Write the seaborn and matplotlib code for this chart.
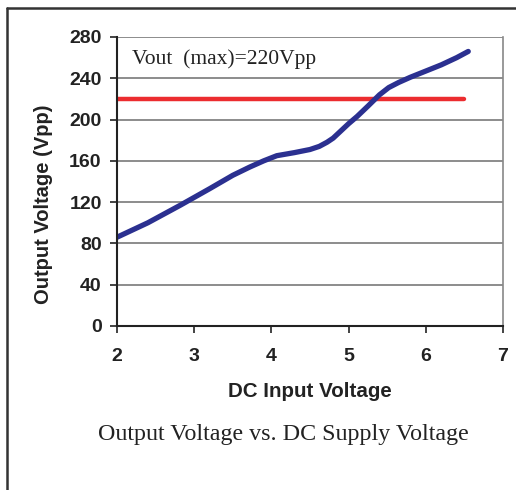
import matplotlib
matplotlib.use("Agg")
import matplotlib.pyplot as plt
import seaborn as sns
import pandas as pd
from matplotlib.lines import Line2D

# values
dc_input = [2.0, 2.4, 2.82, 3.2, 3.5, 3.72, 3.9, 4.07, 4.3, 4.5, 4.62, 4.72, 4.8, 4.9, 5.0,
            5.11, 5.25, 5.4, 5.52, 5.65, 5.8, 6.0, 6.2, 6.4, 6.55]
vout = [86, 100, 117, 133, 146, 154, 160, 165, 168, 171, 174, 178, 182, 189, 196,
        203, 213, 224, 231, 236, 241, 247, 253, 260, 266]
limit_x = [2.0, 6.5]
limit_y = [220, 220]

curve = pd.DataFrame({"DC Input Voltage": dc_input, "Output Voltage (Vpp)": vout})
limit = pd.DataFrame({"x": limit_x, "y": limit_y})

sns.set_style("white")
plt.rcParams["font.family"] = ["Liberation Sans", "DejaVu Sans"]

fig = plt.figure(figsize=(5.16, 4.9), dpi=100)
ax = fig.add_axes([0.2267, 0.3347, 0.7481, 0.5898])

for y in range(40, 281, 40):
    ax.axhline(y, color="#6e6e6e", linewidth=1.1, zorder=0)
sns.lineplot(data=limit, x="x", y="y", color="#ec2c2f", linewidth=3.2, ax=ax)
sns.lineplot(data=curve, x="DC Input Voltage", y="Output Voltage (Vpp)", sort=False,
             color="#2b3090", linewidth=3.8, ax=ax)
ax.lines[-1].set_solid_joinstyle("round")

ax.set_xlim(2, 7)
ax.set_ylim(0, 280)
ax.set_xticks(range(2, 8))
ax.set_yticks(range(0, 281, 40))

ax.spines["left"].set_color("#222222")
ax.spines["bottom"].set_color("#222222")
ax.spines["left"].set_linewidth(1.5)
ax.spines["bottom"].set_linewidth(1.5)
ax.spines["top"].set_visible(False)
ax.spines["right"].set_color("#888888")
ax.spines["right"].set_linewidth(1.2)

ax.tick_params(axis="both", direction="out", length=5, width=1.2, color="#222222",
               labelsize=14, bottom=True, left=True)
ax.tick_params(axis="x", pad=11)
ax.tick_params(axis="y", pad=6)
for lbl in ax.get_xticklabels() + ax.get_yticklabels():
    lbl.set_fontweight("bold")
    lbl.set_color("#222222")

ax.set_xlabel("DC Input Voltage", fontsize=14.8, fontweight="bold", color="#222222", labelpad=12)
ax.set_ylabel("Output Voltage (Vpp)", fontsize=14.5, fontweight="bold", color="#222222")
ax.yaxis.set_label_coords(-0.167, 0.422)

ax.text(2.2, 259, "Vout  (max)=220Vpp", family="Liberation Serif", fontsize=15.5,
        color="#222222", va="center", ha="left")

fig.text(0.549, 0.114, "Output Voltage vs. DC Supply Voltage", family="Liberation Serif",
         fontsize=17.3, color="#222222", ha="center", va="center")

# frame around the figure (left and top edges)
fig.add_artist(Line2D([0.0135, 0.0135], [0.0, 0.983], color="#333333", linewidth=1.8))
fig.add_artist(Line2D([0.0135, 1.0], [0.983, 0.983], color="#333333", linewidth=1.8))

fig.savefig("out.png", dpi=100)
